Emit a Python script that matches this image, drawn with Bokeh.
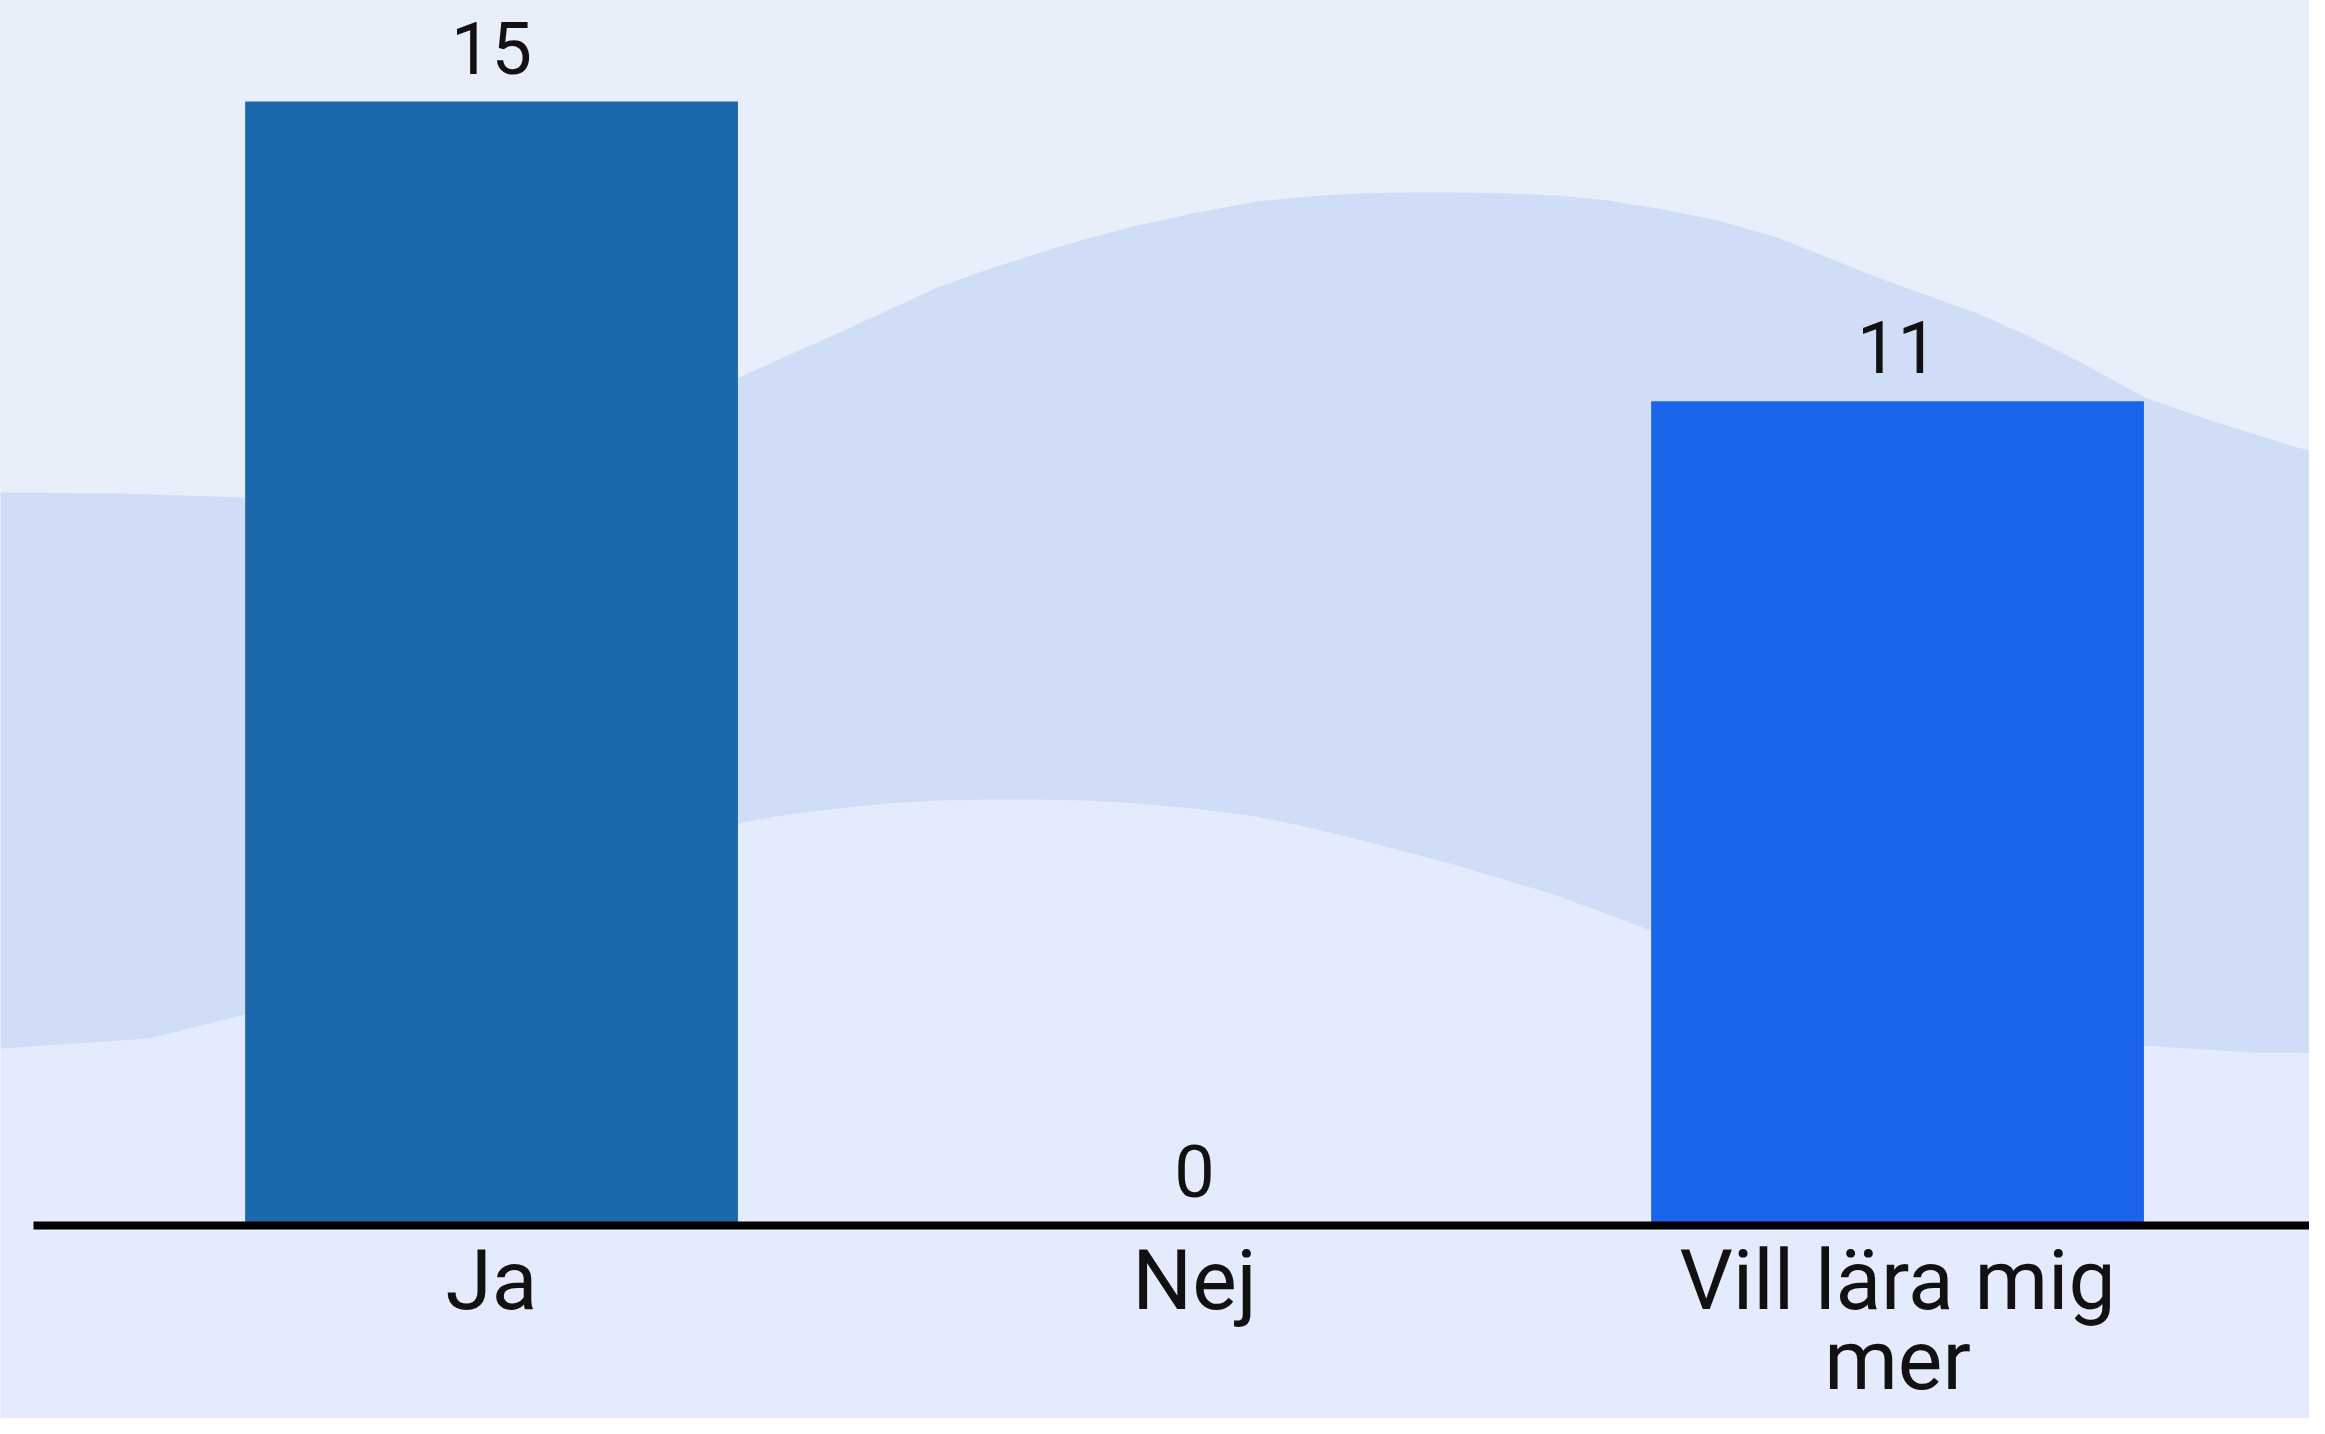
from bokeh.plotting import figure
from bokeh.models import Range1d, LinearAxis, FixedTicker, PolyAnnotation, ColumnDataSource, LabelSet
from bokeh.embed import file_html
from bokeh.resources import INLINE
from bokeh.core.properties import value

# ---------------- data ----------------
categories = ["Ja", "Nej", "Vill lära mig\nmer"]
counts = [15, 0, 11]
bar_colors = ["#1c68ad", "#1c68ad", "#1b65ea"]

# ---------------- layout / style ----------------
W, H = 2309, 1418
X_START, X_END = -0.6985, 2.586
Y_START, Y_END = -2.576, 16.348
TOP_COLOR = "#e8effb"
BAND_COLOR = "#cfddf7"
BOTTOM_COLOR = "#e3ebfc"
FONT = "Roboto"

# decorative background wave, page-pixel outline (not data)
WAVE_TOP_PX_X = [-20, 0, 120, 245, 490, 737, 787, 837, 887, 937, 987, 1037, 1087, 1137, 1197, 1257,
                 1307, 1357, 1407, 1457, 1507, 1557, 1607, 1657, 1717, 1777, 1827, 1877, 1927,
                 1977, 2027, 2077, 2144, 2210, 2297, 2345]
WAVE_TOP_PX_Y = [492, 492, 493, 497, 440, 378, 355, 333, 310, 287, 269, 253, 238, 225, 212, 201,
                 196, 193, 192, 192, 193, 195, 200, 208, 220, 237, 257, 277, 295,
                 313, 335, 360, 397, 420, 447, 458]
WAVE_BOT_PX_X = [-20, 0, 148, 245, 490, 737, 787, 837, 887, 937, 987, 1037, 1087, 1137, 1193, 1250,
                 1300, 1350, 1400, 1450, 1500, 1550, 1600, 1650, 1900, 2143, 2250, 2345]
WAVE_BOT_PX_Y = [1048, 1048, 1038, 1014, 915, 823, 814, 808, 803, 800, 799, 799, 800, 803, 808, 815,
                 825, 837, 850, 863, 878, 893, 911, 930, 1000, 1045, 1052, 1053]


def px_to_x(px):
    return X_START + px / W * (X_END - X_START)


def px_to_y(py):
    return Y_END - py / H * (Y_END - Y_START)


p = figure(width=W, height=H, output_backend="svg", toolbar_location=None,
           x_range=Range1d(X_START, X_END), y_range=Range1d(Y_START, Y_END),
           x_axis_location=None, y_axis_location=None,
           min_border_left=0, min_border_right=0, min_border_top=0,
           min_border_bottom=0)
p.background_fill_color = BOTTOM_COLOR
p.border_fill_color = BOTTOM_COLOR
p.outline_line_color = None
p.xgrid.visible = False
p.ygrid.visible = False

# top light region
top_xs = [px_to_x(v) for v in WAVE_TOP_PX_X] + [px_to_x(2345), px_to_x(-20)]
top_ys = [px_to_y(v) for v in WAVE_TOP_PX_Y] + [Y_END + 5, Y_END + 5]
p.add_layout(PolyAnnotation(xs=top_xs, ys=top_ys, fill_color=TOP_COLOR, fill_alpha=1,
                            line_color=None, level="underlay"))
# middle band
band_xs = [px_to_x(v) for v in WAVE_TOP_PX_X] + [px_to_x(v) for v in reversed(WAVE_BOT_PX_X)]
band_ys = [px_to_y(v) for v in WAVE_TOP_PX_Y] + [px_to_y(v) for v in reversed(WAVE_BOT_PX_Y)]
p.add_layout(PolyAnnotation(xs=band_xs, ys=band_ys, fill_color=BAND_COLOR, fill_alpha=1,
                            line_color=None, level="underlay"))

idx = list(range(len(categories)))
src = ColumnDataSource(dict(x=idx, top=counts, color=bar_colors,
                            label=[str(c) for c in counts]))

p.vbar(x="x", top="top", bottom=0, width=0.701, fill_color="color",
       line_color=None, source=src)

# value labels above bars
p.add_layout(LabelSet(x="x", y="top", text="label", source=src, text_align="center",
                      text_baseline="alphabetic", y_offset=28, text_font=value(FONT),
                      text_font_size="72px", text_color="#111111"))

# category axis drawn at y = 0
xaxis = LinearAxis(ticker=FixedTicker(ticks=idx),
                   major_label_overrides={i: c for i, c in zip(idx, categories)},
                   bounds=(px_to_x(33), X_END), fixed_location=0)
xaxis.axis_line_color = "#000000"
xaxis.axis_line_width = 8
xaxis.major_tick_line_color = None
xaxis.minor_tick_line_color = None
xaxis.major_tick_out = 0
xaxis.major_tick_in = 0
xaxis.major_label_standoff = 6
xaxis.major_label_text_font = FONT
xaxis.major_label_text_font_size = "84px"
xaxis.major_label_text_color = "#111111"
xaxis.major_label_text_line_height = 0.8
p.add_layout(xaxis, "below")

open("out.html", "w").write(file_html(p, INLINE))
